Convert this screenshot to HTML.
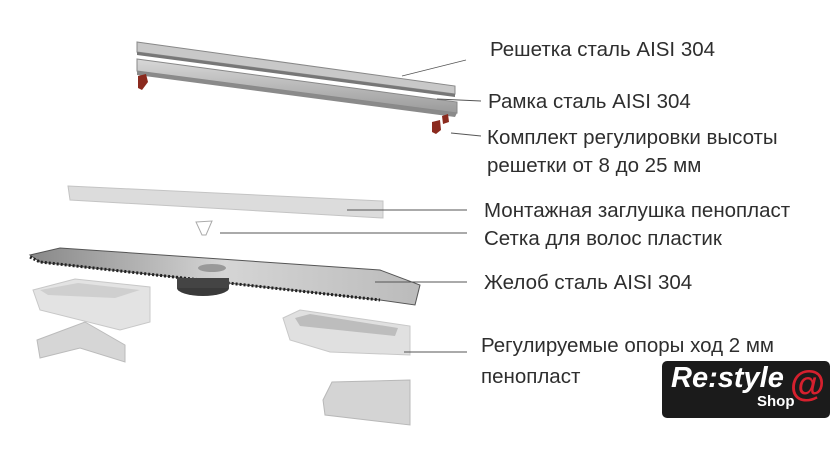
<!DOCTYPE html>
<html><head><meta charset="utf-8"><style>
body{margin:0;width:840px;height:460px;background:#fff;overflow:hidden;position:relative;font-family:"Liberation Sans",sans-serif}
.t{position:absolute;font-size:20.5px;color:#2e2e2e;white-space:nowrap;line-height:1}
</style></head><body>
<svg width="840" height="460" style="position:absolute;left:0;top:0">
<defs>
<linearGradient id="st" x1="0" y1="0" x2="0" y2="1"><stop offset="0" stop-color="#d8d8d8"/><stop offset="1" stop-color="#9a9a9a"/></linearGradient>
<linearGradient id="ch" x1="0" y1="0" x2="1" y2="0"><stop offset="0" stop-color="#888"/><stop offset=".5" stop-color="#d5d5d5"/><stop offset="1" stop-color="#bbb"/></linearGradient>
</defs>
<polygon points="137,42 455,86 455,94 137,52" fill="#c8c8c8" stroke="#888" stroke-width="1"/>
<polygon points="137,52 455,94 455,97 137,55" fill="#777"/>
<polygon points="137,59 457,102 457,113 137,71" fill="url(#st)" stroke="#888" stroke-width="1"/>
<polygon points="137,71 457,113 455,117 137,75" fill="#8a8a8a"/>
<polygon points="138,76 146,74 148,82 142,90 138,88" fill="#8b2a1e"/>
<polygon points="432,122 440,120 441,130 436,134 432,132" fill="#8b2a1e"/>
<polygon points="442,116 448,114 449,122 443,124" fill="#8b2a1e"/>
<polygon points="68,186 383,201 383,218 70,200" fill="#dcdcdc" stroke="#c4c4c4"/>
<path d="M196,222 L212,221 L206,235 L202,235 Z" fill="none" stroke="#aaa"/>
<polygon points="30,255 60,248 380,270 420,285 415,305 380,300 40,262" fill="url(#ch)" stroke="#555" stroke-width="1"/>
<polyline points="30,257 40,262 380,300" fill="none" stroke="#222" stroke-width="3" stroke-dasharray="2,2"/>
<ellipse cx="212" cy="268" rx="14" ry="4" fill="#999"/>
<ellipse cx="203" cy="288" rx="26" ry="8" fill="#3a3a3a"/>
<rect x="177" y="278" width="52" height="10" fill="#444"/>
<polygon points="33,290 75,279 150,287 150,322 120,330 40,310" fill="#e3e3e3" stroke="#c8c8c8"/>
<polygon points="40,290 78,283 140,290 115,298 48,295" fill="#cfcfcf"/>
<polygon points="37,340 85,322 125,345 125,362 80,348 40,358" fill="#d6d6d6" stroke="#bbb"/>
<polygon points="283,318 300,310 410,326 410,355 330,352 290,340" fill="#e0e0e0" stroke="#c8c8c8"/>
<polygon points="295,318 310,314 398,328 395,336 300,326" fill="#bdbdbd"/>
<polygon points="323,400 332,382 410,380 410,425 325,415" fill="#d4d4d4" stroke="#b8b8b8"/>
<g stroke="#555" stroke-width="0.9" fill="none">
<line x1="402" y1="76" x2="466" y2="60"/>
<line x1="437" y1="99" x2="481" y2="101"/>
<line x1="451" y1="133" x2="481" y2="136"/>
<line x1="347" y1="210" x2="467" y2="210"/>
<line x1="220" y1="233" x2="467" y2="233"/>
<line x1="375" y1="282" x2="467" y2="282"/>
<line x1="404" y1="352" x2="467" y2="352"/>
</g>
</svg>
<div class="t" style="left:490px;top:40px">Решетка сталь AISI 304</div>
<div class="t" style="left:488px;top:92px">Рамка сталь AISI 304</div>
<div class="t" style="left:487px;top:128px">Комплект регулировки высоты</div>
<div class="t" style="left:487px;top:156px">решетки от 8 до 25 мм</div>
<div class="t" style="left:484px;top:201px">Монтажная заглушка пенопласт</div>
<div class="t" style="left:484px;top:229px">Сетка для волос пластик</div>
<div class="t" style="left:484px;top:273px">Желоб сталь AISI 304</div>
<div class="t" style="left:481px;top:336px">Регулируемые опоры ход 2 мм</div>
<div class="t" style="left:481px;top:367px">пенопласт</div>
<div style="position:absolute;left:662px;top:361px;width:168px;height:57px;background:#1b1b1b;border-radius:5px"></div>
<div style="position:absolute;left:671px;top:364px;color:#fff;font-size:29px;font-style:italic;font-weight:bold;line-height:1">Re:style</div>
<div style="position:absolute;left:757px;top:394px;color:#fff;font-size:15px;font-weight:bold;line-height:1">Shop</div>
<div style="position:absolute;left:790px;top:366px;color:#d6202e;font-size:36px;font-weight:bold;line-height:1">@</div>
</body></html>
